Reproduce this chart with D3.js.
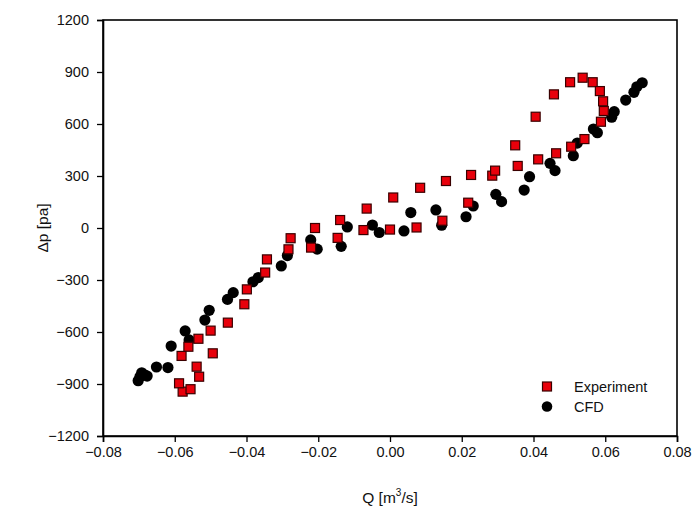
<!DOCTYPE html>
<html><head><meta charset="utf-8">
<script src="https://cdn.jsdelivr.net/npm/d3@7"></script>
<style>body{margin:0;background:#fff}svg{display:block}text{font-family:"Liberation Sans",Arial,sans-serif}</style>
</head><body>
<svg id="c" width="698" height="516"></svg>
<script>
const expQ = [-0.0578,-0.0556,-0.0588,-0.0532,-0.0539,-0.0581,-0.0494,-0.0562,-0.0534,-0.0500,-0.0452,-0.0406,-0.0399,-0.0348,-0.0343,-0.0283,-0.0277,-0.0220,-0.0209,-0.0146,-0.0139,-0.0074,-0.0065,0.0000,0.0009,0.0074,0.0084,0.0146,0.0156,0.0218,0.0226,0.0285,0.0293,0.0349,0.0356,0.0406,0.0413,0.0457,0.0463,0.0502,0.0505,0.0537,0.0542,0.0565,0.0585,0.0594,0.0596,0.0588];
const expP = [-944,-930,-896,-858,-800,-738,-723,-685,-639,-592,-546,-440,-354,-257,-181,-123,-59,-113,0,-57,46,-12,112,-9,176,3,232,42,271,146,306,302,331,477,358,642,396,771,431,841,469,867,513,841,790,731,675,613];
const cfdQ = [-0.0702,-0.0697,-0.0692,-0.0683,-0.0677,-0.0651,-0.0619,-0.0610,-0.0571,-0.0560,-0.0516,-0.0504,-0.0453,-0.0437,-0.0382,-0.0367,-0.0303,-0.0286,-0.0221,-0.0203,-0.0136,-0.0119,-0.0049,-0.0030,0.0039,0.0058,0.0128,0.0144,0.0212,0.0232,0.0295,0.0311,0.0374,0.0389,0.0446,0.0460,0.0511,0.0522,0.0567,0.0578,0.0618,0.0625,0.0657,0.0680,0.0688,0.0703];
const cfdP = [-881,-858,-835,-848,-854,-802,-805,-681,-594,-646,-531,-475,-412,-373,-310,-286,-219,-159,-69,-122,-106,6,17,-26,-17,89,104,16,65,127,194,152,219,296,373,331,417,490,571,550,639,671,738,783,815,838];
const xTicks = [-0.08,-0.06,-0.04,-0.02,0,0.02,0.04,0.06,0.08];
const yTicks = [-1200,-900,-600,-300,0,300,600,900,1200];
const seriesNames = ["Experiment","CFD"];

const svg = d3.select("#c");
const m = {l:103, t:20, r:21, b:80};
const W = 698, H = 516;
const x = d3.scaleLinear().domain([-0.08,0.08]).range([m.l, W-m.r]);
const y = d3.scaleLinear().domain([-1200,1200]).range([H-m.b, m.t]);

// frame
svg.append("rect").attr("x",m.l).attr("y",m.t).attr("width",W-m.r-m.l).attr("height",H-m.b-m.t)
  .attr("fill","none").attr("stroke","#000").attr("stroke-width",1.6);

const xa = svg.append("g").attr("transform",`translate(0,${H-m.b})`)
  .call(d3.axisBottom(x).tickValues(xTicks).tickFormat(d3.format(".2f")).tickSize(6).tickPadding(5));
const ya = svg.append("g").attr("transform",`translate(${m.l},0)`)
  .call(d3.axisLeft(y).tickValues(yTicks).tickFormat(d3.format("d")).tickSize(6).tickPadding(8));
[xa,ya].forEach(g=>{
  g.select(".domain").attr("stroke-width",1.6);
  g.selectAll(".tick line").attr("stroke-width",1.3);
  g.selectAll(".tick text").attr("font-size",14.5).attr("fill","#111").style("font-family","'Liberation Sans',Arial,sans-serif");
});

const cfd = cfdQ.map((q,i)=>({q,p:cfdP[i]}));
const exp = expQ.map((q,i)=>({q,p:expP[i]}));

svg.append("g").selectAll("circle").data(cfd).join("circle")
  .attr("cx",d=>x(d.q)).attr("cy",d=>y(d.p)).attr("r",5.6).attr("fill","#000");

const s = 9;
svg.append("g").selectAll("rect").data(exp).join("rect")
  .attr("x",d=>x(d.q)-s/2).attr("y",d=>y(d.p)-s/2).attr("width",s).attr("height",s)
  .attr("fill","#e8000b").attr("stroke","#3a0000").attr("stroke-width",1.2);

// axis titles
svg.append("text").attr("x",(m.l+W-m.r)/2).attr("y",503).attr("text-anchor","middle").attr("font-size",15.5).attr("fill","#111")
  .html('Q [m<tspan font-size="10" dy="-7">3</tspan><tspan dy="7">/s]</tspan>');
svg.append("text").attr("transform",`translate(48,${(m.t+H-m.b)/2}) rotate(-90)`).attr("text-anchor","middle")
  .attr("font-size",15.5).attr("fill","#111").text("Δp [pa]");

// legend
const lg = svg.append("g");
lg.append("rect").attr("x",547-4.5).attr("y",386.5-4.5).attr("width",9).attr("height",9)
  .attr("fill","#e8000b").attr("stroke","#3a0000").attr("stroke-width",1.2);
lg.append("circle").attr("cx",547).attr("cy",406.5).attr("r",5.3).attr("fill","#000");
lg.append("text").attr("x",574).attr("y",391.5).attr("font-size",14.5).attr("fill","#111").text(seriesNames[0]);
lg.append("text").attr("x",574).attr("y",411.5).attr("font-size",14.5).attr("fill","#111").text(seriesNames[1]);
</script>
</body></html>
